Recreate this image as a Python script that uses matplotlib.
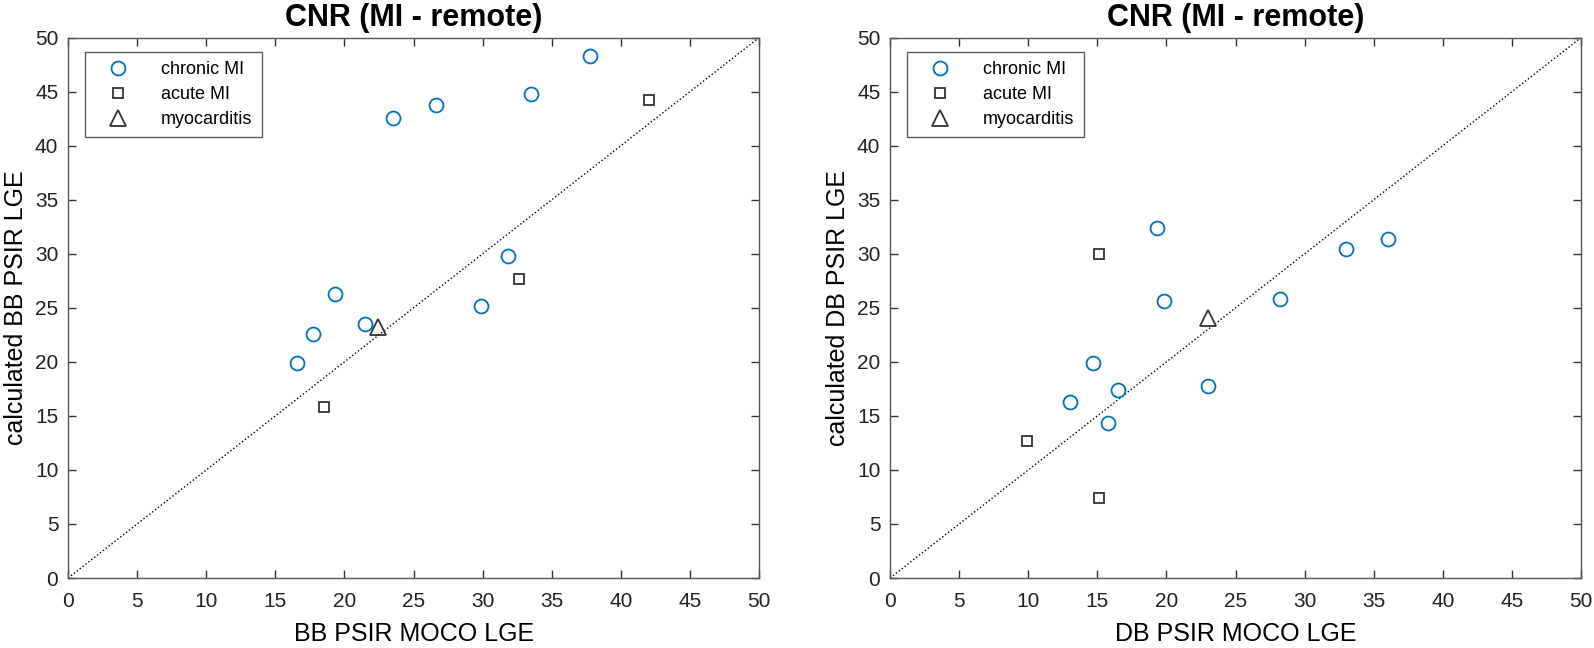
import matplotlib
matplotlib.use("Agg")
import matplotlib.pyplot as plt
import numpy as np

plt.rcParams['font.family'] = ['Liberation Sans', 'DejaVu Sans']

# BB panel
bb_chronic_x = [16.6, 17.7, 19.3, 21.5, 23.5, 26.6, 29.9, 31.8, 33.5, 37.8]
bb_chronic_y = [19.9, 22.6, 26.3, 23.5, 42.6, 43.8, 25.2, 29.8, 44.8, 48.3]
bb_acute_x = [18.5, 32.6, 42.0]
bb_acute_y = [15.8, 27.7, 44.2]
bb_myo_x = [22.4]
bb_myo_y = [23.2]

# DB panel
db_chronic_x = [13.0, 14.7, 15.8, 16.5, 19.3, 19.8, 23.0, 28.2, 33.0, 36.0]
db_chronic_y = [16.3, 19.9, 14.3, 17.4, 32.4, 25.6, 17.8, 25.8, 30.4, 31.4]
db_acute_x = [9.9, 15.1, 15.1]
db_acute_y = [12.7, 30.0, 7.4]
db_myo_x = [23.0]
db_myo_y = [24.1]

labels = ["chronic MI", "acute MI", "myocarditis"]
xlabels = ["BB PSIR MOCO LGE", "DB PSIR MOCO LGE"]
ylabels = ["calculated BB PSIR LGE", "calculated DB PSIR LGE"]
ticks = np.arange(0, 51, 5)

blue = "#0072BD"
dark = "#333333"

fig = plt.figure(figsize=(15.94, 6.48), dpi=100)
ax1 = fig.add_axes([0.0427, 0.108, 0.4335, 0.834])
ax2 = fig.add_axes([0.5584, 0.108, 0.4335, 0.834])

panels = [
    (ax1, bb_chronic_x, bb_chronic_y, bb_acute_x, bb_acute_y, bb_myo_x, bb_myo_y),
    (ax2, db_chronic_x, db_chronic_y, db_acute_x, db_acute_y, db_myo_x, db_myo_y),
]

for i, (ax, cx, cy, ax_, ay, mx, my) in enumerate(panels):
    ax.plot([0, 50], [0, 50], color="black", linestyle=":", linewidth=1.0)
    ax.plot(cx, cy, linestyle="none", marker="o", markersize=10, markerfacecolor="none",
            markeredgecolor=blue, markeredgewidth=1.3, label=labels[0])
    ax.plot(ax_, ay, linestyle="none", marker="s", markersize=7, markerfacecolor="none",
            markeredgecolor=dark, markeredgewidth=1.3, label=labels[1])
    ax.plot(mx, my, linestyle="none", marker="^", markersize=11, markerfacecolor="none",
            markeredgecolor=dark, markeredgewidth=1.3, label=labels[2])
    ax.set_xlim(0, 50)
    ax.set_ylim(0, 50)
    ax.set_xticks(ticks)
    ax.set_yticks(ticks)
    ax.tick_params(direction="in", length=6, width=1.0, top=True, right=True,
                   labelsize=15, pad=7, colors=dark, labelcolor="#222222")
    ax.tick_params(axis="x", pad=10)
    for s in ax.spines.values():
        s.set_linewidth(1.0)
        s.set_color("#555555")
    ax.set_title("CNR (MI - remote)", fontsize=22, fontweight="bold", pad=8)
    ax.set_xlabel(xlabels[i], fontsize=18, labelpad=8)
    ax.set_ylabel(ylabels[i], fontsize=18, labelpad=5)
    leg = ax.legend(loc="upper left", fontsize=13, frameon=True, fancybox=False,
                    edgecolor=dark, borderpad=0.5, handletextpad=1.1, handlelength=2.6,
                    bbox_to_anchor=(0.012, 0.99), labelspacing=0.45)
    leg.get_frame().set_linewidth(1.0)

plt.savefig("out.png", dpi=100)
